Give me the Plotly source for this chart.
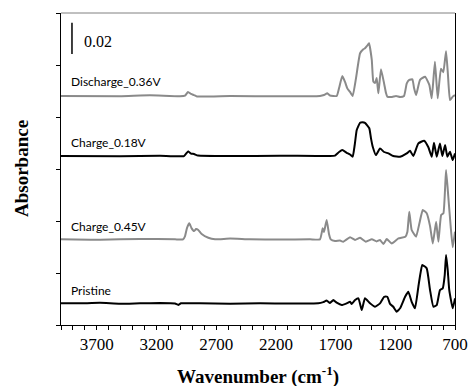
import plotly.graph_objects as go

# ---- data: wavenumber (cm-1) and absorbance relative to each trace's baseline ----
wn_discharge = [4000, 3506, 3255, 3003, 2961, 2936, 2911, 2886, 2861, 2584, 2166, 1831,
                1797, 1769, 1747, 1691, 1671, 1644, 1621, 1602, 1579, 1557, 1529, 1495,
                1468, 1454, 1437, 1420, 1397, 1384, 1370, 1356, 1342, 1320, 1294, 1278,
                1267, 1227, 1194, 1160, 1127, 1104, 1083, 1057, 1043, 1026, 993, 951,
                915, 895, 868, 845, 818, 798, 775, 759, 742, 719, 700]
abs_discharge = [0, -0.0002, 0.0004, -0.0002, 0.0003, 0.0026, 0.0013, 0.0006, -0.0003, 0, -0.0002, 0,
                 0.0006, 0.0017, 0.0003, 0, 0.0051, 0.0128, 0.0090, 0.0049, 0.0026, 0, 0.0115, 0.0274,
                 0.0299, 0.0306, 0.0321, 0.0338, 0.0231, 0.0092, 0.0083, 0.0115, 0.0017, 0.0171, 0.0081, 0.0019,
                 -0.0004, -0.0006, 0, -0.0006, 0, 0.0081, 0.0103, 0.0107, 0.0051, 0.0006, 0.0103, 0.0124,
                 0.0071, -0.0015, 0.0220, -0.0015, 0.0174, 0.0152, 0.0287, 0.0135, -0.0026, -0.0004, 0.0006]

wn_charge018 = [4000, 3506, 3171, 2970, 2936, 2911, 2886, 2853, 2584, 2166, 1747, 1705,
                1671, 1644, 1607, 1579, 1557, 1540, 1523, 1495, 1474, 1454, 1418, 1404,
                1389, 1362, 1328, 1294, 1258, 1217, 1160, 1104, 1077, 1049, 1007, 959,
                923, 895, 876, 853, 826, 806, 783, 764, 742, 719, 700]
abs_charge018 = [0, -0.0002, 0.0002, 0, 0.0030, 0.0016, 0.0013, 0.0003, 0, 0.0002, 0, 0.0003,
                 0.0026, 0.0038, 0.0021, 0.0010, -0.0004, 0.0071, 0.0167, 0.0213, 0.0216, 0.0213, 0.0178, 0.0115,
                 0.0060, 0.0006, 0.0049, 0.0026, 0.0017, 0, -0.0004, 0.0017, 0.0034, 0, 0.0081, 0.0098,
                 0.0056, -0.0004, 0.0085, -0.0004, 0.0081, 0, 0.0071, -0.0004, 0.0028, -0.0026, 0.0017]

wn_charge045 = [4000, 3673, 3338, 3045, 2978, 2961, 2945, 2925, 2907, 2886, 2869, 2850,
                2822, 2766, 2710, 2584, 2417, 2166, 1914, 1831, 1808, 1797, 1775, 1755,
                1741, 1705, 1663, 1636, 1579, 1537, 1495, 1447, 1397, 1356, 1328, 1300,
                1272, 1230, 1174, 1116, 1099, 1083, 1063, 1026, 998, 970, 937, 909,
                886, 858, 839, 816, 797, 775, 756, 736, 719, 700]
abs_charge045 = [0, -0.0003, 0.0003, 0, 0, 0.0021, 0.0072, 0.0103, 0.0072, 0.0053, 0.0066, 0.0060,
                 0.0034, 0.0010, 0, 0.0005, 0, -0.0001, 0, 0, 0.0071, 0.0047, 0.0124, 0.0032,
                 0, -0.0011, -0.0008, -0.0015, 0.0013, -0.0004, 0.0010, -0.0015, 0, -0.0013, -0.0004, -0.0030,
                 0.0002, -0.0026, 0.0006, 0.0017, 0.0047, 0.0177, 0.0060, 0.0017, 0.0103, 0.0188, 0.0167, 0.0085,
                 -0.0026, 0.0113, -0.0015, 0.0156, 0.0167, 0.0444, 0.0273, 0.0081, -0.0051, 0.0049]

wn_pristine = [4000, 3841, 3673, 3506, 3338, 3171, 3045, 3018, 2995, 2836, 2584, 2333,
               2082, 1845, 1803, 1775, 1747, 1719, 1691, 1649, 1607, 1579, 1565, 1537,
               1509, 1481, 1454, 1412, 1370, 1328, 1294, 1267, 1244, 1217, 1189, 1160,
               1118, 1091, 1063, 1035, 1007, 993, 974, 937, 909, 881, 853, 826,
               803, 786, 775, 761, 748, 719, 700]
abs_pristine = [0, 0, 0.0003, -0.0003, 0, 0.0002, -0.0001, -0.0010, 0, 0, -0.0003, 0,
                -0.0001, 0, 0.0008, 0.0018, 0.0002, 0.0021, 0.0004, -0.0011, 0, 0.0010, -0.0004, 0.0021,
                0.0032, -0.0043, 0.0032, 0, -0.0022, 0, 0.0042, 0.0042, -0.0004, -0.0022, -0.0054, -0.0032,
                0.0042, 0.0074, 0.0010, -0.0032, 0.0106, 0.0175, 0.0246, 0.0224, 0.0085, -0.0022, -0.0011, 0.0085,
                0.0096, 0.0181, 0.0310, 0.0213, 0.0085, -0.0032, 0.0032]

series_names = ["Discharge_0.36V", "Charge_0.18V", "Charge_0.45V", "Pristine"]
series_wn = [wn_discharge, wn_charge018, wn_charge045, wn_pristine]
series_abs = [abs_discharge, abs_charge018, abs_charge045, abs_pristine]
series_offset = [0.1468, 0.1083, 0.0549, 0.0139]
series_color = ["#8a8a8a", "#000000", "#8a8a8a", "#000000"]
label_offset = [0.0093, 0.0087, 0.0084, 0.0083]   # label height above baseline

scale_bar_x = [3908, 3908]
scale_bar_y = [0.1737, 0.1937]
scale_bar_label = "0.02"

x_range = [4000, 700]
y_range = [0, 0.2]
y_ticks = [0, 0.2 / 6, 0.4 / 6, 0.6 / 6, 0.8 / 6, 1.0 / 6, 0.2]
x_ticks = [3700, 3200, 2700, 2200, 1700, 1200, 700]

SERIF = "Liberation Serif, Times New Roman, serif"
SANS = "Lato, Open Sans, sans-serif"

fig = go.Figure()
for name, wn, a, off, col in zip(series_names, series_wn, series_abs, series_offset, series_color):
    fig.add_trace(go.Scatter(
        x=wn, y=[v + off for v in a], mode="lines", name=name,
        line=dict(color=col, width=2, shape="spline", smoothing=0.4),
        showlegend=False, hoverinfo="skip"))

fig.add_trace(go.Scatter(x=scale_bar_x, y=scale_bar_y, mode="lines",
                         line=dict(color="black", width=1.5), showlegend=False, hoverinfo="skip"))

for name, off, lo in zip(series_names, series_offset, label_offset):
    fig.add_annotation(x=3933, y=off + lo, text=name, showarrow=False,
                       xanchor="left", yanchor="middle",
                       font=dict(family=SANS, size=12, color="black"))

fig.add_annotation(x=3824, y=0.182, text=scale_bar_label, showarrow=False,
                   xanchor="left", yanchor="middle",
                   font=dict(family=SERIF, size=16, color="black"))

# axis titles
fig.add_annotation(xref="paper", yref="paper", x=0.5, y=-0.163,
                   text="<b>Wavenumber (cm<sup>-1</sup>)</b>", showarrow=False,
                   xanchor="center", yanchor="middle",
                   font=dict(family=SERIF, size=19, color="black"))
fig.add_annotation(xref="paper", yref="paper", x=-0.1015, y=0.5,
                   text="<b>Absorbance</b>", showarrow=False, textangle=-90,
                   xanchor="center", yanchor="middle",
                   font=dict(family=SERIF, size=19, color="black"))

# top border (gray)
fig.add_shape(type="line", xref="paper", yref="paper", x0=0, x1=1, y0=1, y1=1,
              line=dict(color="#808080", width=1))

fig.update_layout(
    width=469, height=386,
    margin=dict(l=61, r=14, t=13, b=61, autoexpand=False),
    paper_bgcolor="white", plot_bgcolor="white",
    xaxis=dict(
        range=x_range, tickmode="array", tickvals=x_ticks, automargin=False,
        ticks="outside", ticklen=4, tickcolor="black", tickwidth=1,
        minor=dict(dtick=100, tick0=700, ticks="outside", ticklen=4, tickcolor="black"),
        showline=True, linecolor="black", linewidth=1, mirror=False,
        showgrid=False, zeroline=False,
        tickfont=dict(family=SERIF, size=17, color="black"),
    ),
    yaxis=dict(
        range=y_range, tickmode="array", tickvals=y_ticks, showticklabels=False,
        automargin=False,
        ticks="outside", ticklen=4, tickcolor="black",
        showline=True, linecolor="black", linewidth=1, mirror=True,
        showgrid=False, zeroline=False,
    ),
)

fig.write_html("out.html", config={"displayModeBar": False},
               post_script="document.body.style.margin='0';document.body.style.padding='0';")
